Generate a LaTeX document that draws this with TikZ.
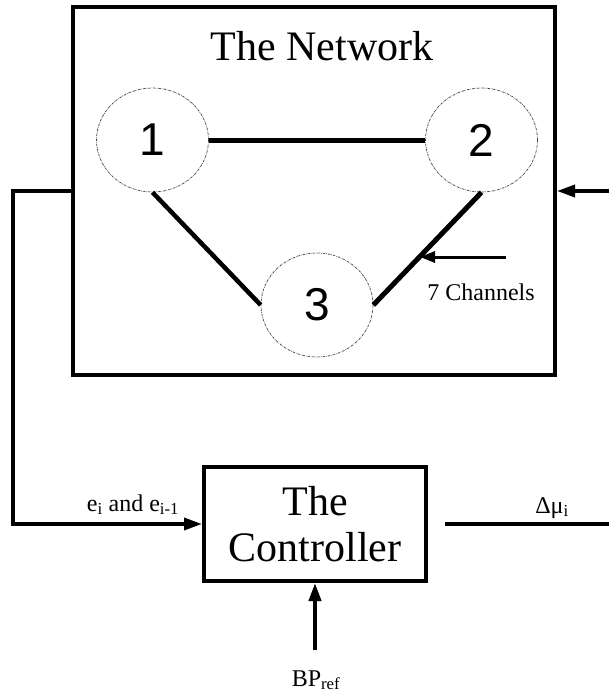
\documentclass[tikz,border=0pt]{standalone}
\usepackage{fontspec}
\setmainfont{Liberation Serif}
\newfontfamily\digitfont{Liberation Sans}
\usetikzlibrary{arrows.meta,shapes.geometric}
\begin{document}
\begin{tikzpicture}[x=1pt,y=-1pt,
  block/.style={draw, line width=4pt, rectangle, inner sep=0pt},
  site/.style={draw, ellipse, line width=0.7pt, black!75,
    dash pattern=on 2.5pt off 1pt on 0.6pt off 1pt,
    minimum width=112pt, minimum height=104pt, inner sep=0pt,
    text=black, font=\digitfont\fontsize{46}{46}\selectfont},
  link/.style={line width=5pt},
  signal/.style={line width=3.5pt},
  tip/.style={-{Triangle[length=18pt,width=12pt]}},
  small/.style={font=\fontsize{24}{26}\selectfont, inner sep=0pt, anchor=base},
  big/.style={font=\fontsize{42}{46}\selectfont}]
\useasboundingbox (0,0) rectangle (609,693);

% the network block with its three sites
\node[block, minimum width=482pt, minimum height=368pt] (net) at (314,191) {};
\node[big, anchor=base, inner sep=0pt] (title) at (322,60) {The Network};
\node[site] (n1) at (152.5,140) {1};
\node[site] (n2) at (481.5,140) {2};
\node[site] (n3) at (317,305) {3};
\draw[link] (n1.east) -- (n2.west);
\draw[link, line width=4.5pt] (n1.south) -- (n3.west);
\draw[link] (n2.south) -- (n3.east);

% channel annotation
\coordinate (chsrc) at (506,257);
\coordinate (chtip) at (420,257);
\draw[line width=3pt, -{Triangle[length=15pt,width=11pt]}] (chsrc) -- (chtip);
\node[small] (chlab) at (481,300) {7 Channels};

% the controller block
\node[block, big, align=center, minimum width=222pt, minimum height=114pt]
  (ctrl) at (315,524) {The\\Controller};

% feedback from the network to the controller
\coordinate (fbl) at (13,191);
\draw[signal, tip] (net.west) -- (fbl) |- (ctrl.west);
\node[small] (elab) at (133,511) {e\textsubscript{i} and e\textsubscript{i-1}};

% control action leaving the controller, and returning to the network
\coordinate (outa) at (445,524);
\coordinate (outb) at (615,524);
\draw[signal] (outa) -- (outb);
\node[small] (dmu) at (552,513) {Δμ\textsubscript{i}};
\coordinate (fbr) at (615,191);
\draw[signal, tip] (fbr) -- (net.east);

% reference input
\coordinate (bpsrc) at (315,650);
\draw[signal, line width=4pt, tip] (bpsrc) -- (ctrl.south);
\node[small] (bp) at (316,686) {BP\textsubscript{ref}};
\end{tikzpicture}
\end{document}
